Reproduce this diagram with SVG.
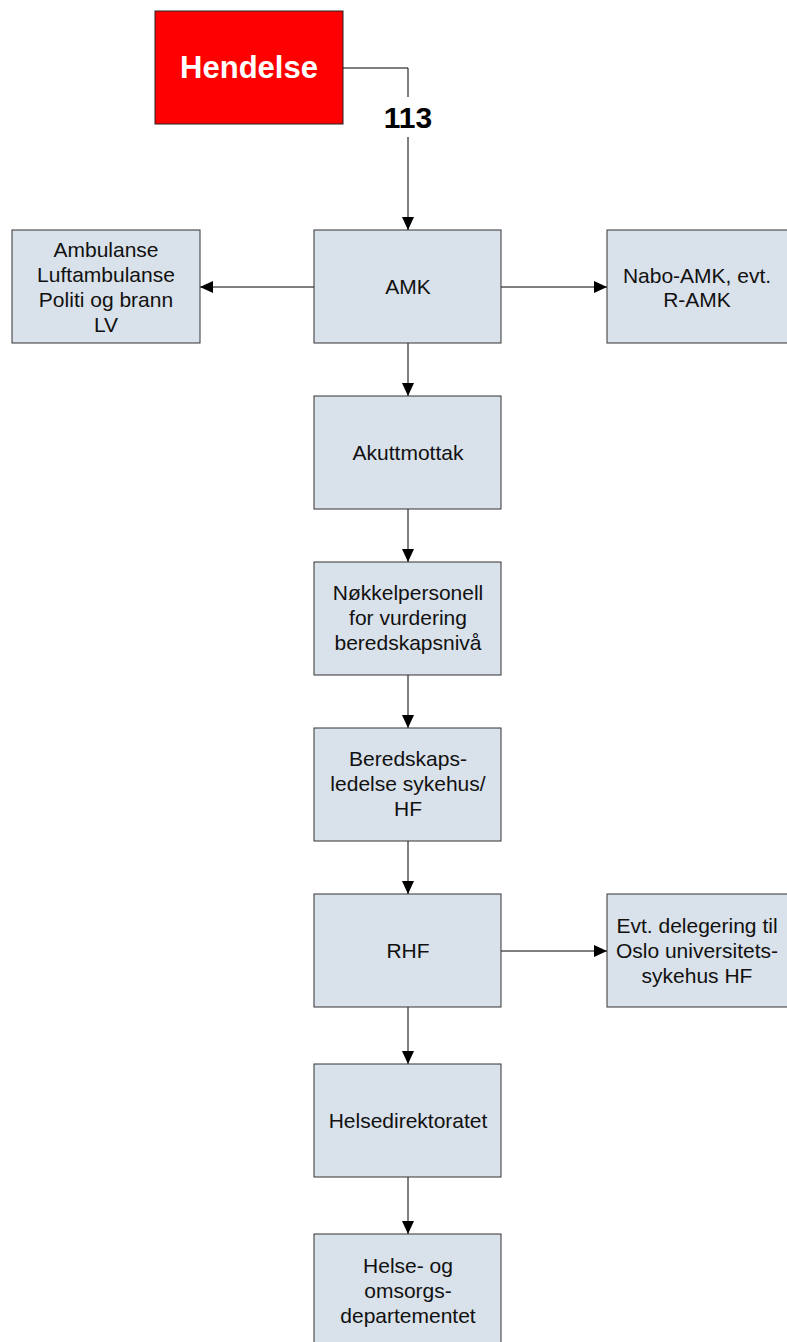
<svg xmlns="http://www.w3.org/2000/svg" width="787" height="1342" viewBox="0 0 787 1342">
<style>
.box{fill:#d9e1ea;stroke:#333;stroke-width:1}
.t{font-family:"Liberation Sans",Arial,sans-serif;font-size:21px;fill:#111;text-anchor:middle}
.c{fill:none;stroke:#000;stroke-width:1}
</style>
<defs>
<marker id="arr" viewBox="0 0 13 13" refX="13" refY="6.5" markerWidth="13" markerHeight="13" markerUnits="userSpaceOnUse" orient="auto">
<path d="M0,0.5 L13,6.5 L0,12.5 Z" fill="#000"/>
</marker>
</defs>
<rect width="787" height="1342" fill="#fff"/>
<g id="connectors">
<path class="c" d="M343,68 H408 V97" stroke="#666"/>
<path class="c" d="M408,137 V230" marker-end="url(#arr)"/>
<path class="c" d="M314,287 H200" stroke="#666" marker-end="url(#arr)"/>
<path class="c" d="M501,287 H607" stroke="#666" marker-end="url(#arr)"/>
<path class="c" d="M408,343 V396" marker-end="url(#arr)"/>
<path class="c" d="M408,509 V562" marker-end="url(#arr)"/>
<path class="c" d="M408,675 V728" marker-end="url(#arr)"/>
<path class="c" d="M408,841 V894" marker-end="url(#arr)"/>
<path class="c" d="M501,951 H607" marker-end="url(#arr)"/>
<path class="c" d="M408,1007 V1064" marker-end="url(#arr)"/>
<path class="c" d="M408,1177 V1234" marker-end="url(#arr)"/>
<text x="408" y="128" font-family="Liberation Sans,Arial,sans-serif" font-size="30" font-weight="bold" text-anchor="middle">113</text>
</g>
<g id="hendelse">
<rect x="155" y="11" width="188" height="113" fill="#ff0000" stroke="#222"/>
<text x="249" y="78" font-family="Liberation Sans,Arial,sans-serif" font-size="31" font-weight="bold" fill="#fff" text-anchor="middle">Hendelse</text>
</g>
<g id="amk">
<rect class="box" x="314" y="230" width="187" height="113"/>
<text class="t" x="408" y="294">AMK</text>
</g>
<g id="ambulanse">
<rect class="box" x="12" y="230" width="188" height="113"/>
<text class="t" x="106" y="257">Ambulanse</text>
<text class="t" x="106" y="282">Luftambulanse</text>
<text class="t" x="106" y="307">Politi og brann</text>
<text class="t" x="106" y="332">LV</text>
</g>
<g id="nabo">
<rect class="box" x="607" y="230" width="190" height="113"/>
<text class="t" x="697" y="283">Nabo-AMK, evt.</text>
<text class="t" x="697" y="307">R-AMK</text>
</g>
<g id="akuttmottak">
<rect class="box" x="314" y="396" width="187" height="113"/>
<text class="t" x="408" y="460">Akuttmottak</text>
</g>
<g id="nokkel">
<rect class="box" x="314" y="562" width="187" height="113"/>
<text class="t" x="408" y="600">Nøkkelpersonell</text>
<text class="t" x="408" y="625">for vurdering</text>
<text class="t" x="408" y="650">beredskapsnivå</text>
</g>
<g id="beredskap">
<rect class="box" x="314" y="728" width="187" height="113"/>
<text class="t" x="408" y="766">Beredskaps-</text>
<text class="t" x="408" y="791">ledelse sykehus/</text>
<text class="t" x="408" y="816">HF</text>
</g>
<g id="rhf">
<rect class="box" x="314" y="894" width="187" height="113"/>
<text class="t" x="408" y="958">RHF</text>
</g>
<g id="delegering">
<rect class="box" x="607" y="894" width="190" height="113"/>
<text class="t" x="697" y="933">Evt. delegering til</text>
<text class="t" x="697" y="958">Oslo universitets-</text>
<text class="t" x="697" y="983">sykehus HF</text>
</g>
<g id="helsedir">
<rect class="box" x="314" y="1064" width="187" height="113"/>
<text class="t" x="408" y="1128">Helsedirektoratet</text>
</g>
<g id="hod">
<rect class="box" x="314" y="1234" width="187" height="113"/>
<text class="t" x="408" y="1273">Helse- og</text>
<text class="t" x="408" y="1298">omsorgs-</text>
<text class="t" x="408" y="1323">departementet</text>
</g>
</svg>
